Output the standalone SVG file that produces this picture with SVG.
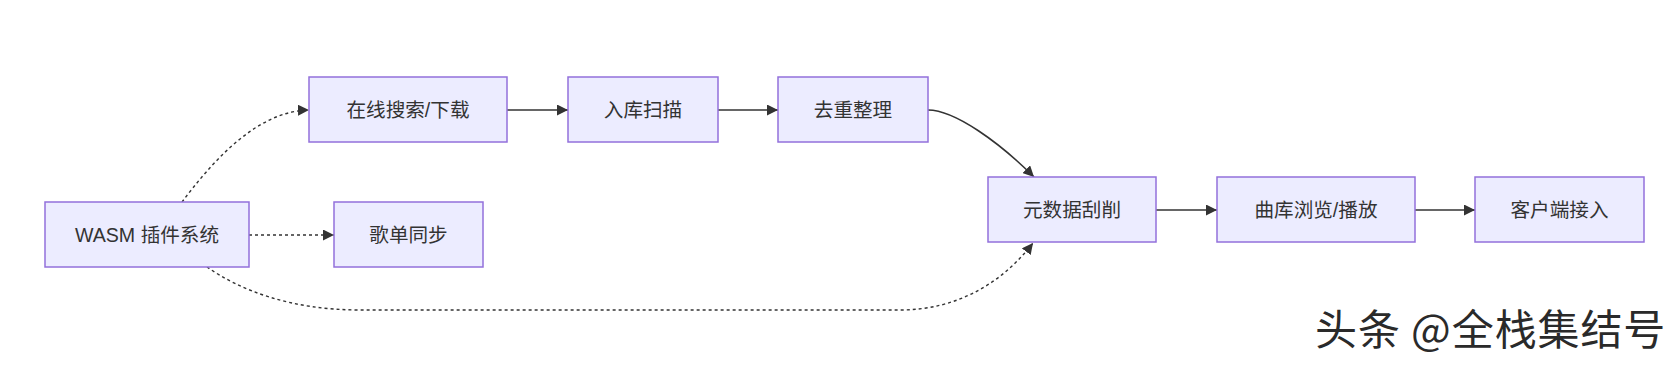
<svg xmlns="http://www.w3.org/2000/svg" width="1678" height="365" viewBox="0 0 1678 365">
<defs>
<style>
.node rect{fill:#ECECFF;stroke:#9370DB;stroke-width:1.5}
.node text{font-family:"Liberation Sans","Noto Sans CJK SC",sans-serif;font-size:19.6px;fill:#333;text-anchor:middle;dominant-baseline:central}
.edge{fill:none;stroke:#333;stroke-width:1.6}
.dotted{stroke-dasharray:3 3;stroke-width:1.4}
.wm{font-family:"Noto Sans CJK SC",sans-serif;font-size:42px;letter-spacing:0.9px;fill:#2a2a2a;stroke:#fff;stroke-width:0.6;paint-order:stroke}
</style>
<marker id="arrow" viewBox="0 0 10 10" refX="10" refY="5" markerWidth="11" markerHeight="11" markerUnits="userSpaceOnUse" orient="auto">
<path d="M0,0 L10,5 L0,10 z" fill="#333"/>
</marker>
</defs>
<rect width="1678" height="365" fill="#fff"/>
<g id="connectors">
<path class="edge dotted" d="M182,202 C210,165 255,111 309,110" marker-end="url(#arrow)"/>
<path class="edge" d="M507,110 L568,110" marker-end="url(#arrow)"/>
<path class="edge" d="M718,110 L778,110" marker-end="url(#arrow)"/>
<path class="edge" d="M928,110 C955,110 1000,143 1034,177" marker-end="url(#arrow)"/>
<path class="edge" d="M1156,210 L1217,210" marker-end="url(#arrow)"/>
<path class="edge" d="M1415,210 L1475,210" marker-end="url(#arrow)"/>
<path class="edge dotted" d="M249,235 L334,235" marker-end="url(#arrow)"/>
<path class="edge dotted" d="M207,267 C240,290 290,310 360,310 L900,310 C958,310 1003,282 1033,243" marker-end="url(#arrow)"/>
</g>
<g id="wasm" class="node"><rect x="45" y="202" width="204" height="65"/><text x="147" y="235">WASM 插件系统</text></g>
<g id="search" class="node"><rect x="309" y="77" width="198" height="65"/><text x="408" y="110">在线搜索/下载</text></g>
<g id="playlist" class="node"><rect x="334" y="202" width="149" height="65"/><text x="408.5" y="235">歌单同步</text></g>
<g id="scan" class="node"><rect x="568" y="77" width="150" height="65"/><text x="643" y="110">入库扫描</text></g>
<g id="dedup" class="node"><rect x="778" y="77" width="150" height="65"/><text x="853" y="110">去重整理</text></g>
<g id="meta" class="node"><rect x="988" y="177" width="168" height="65"/><text x="1072" y="210">元数据刮削</text></g>
<g id="browse" class="node"><rect x="1217" y="177" width="198" height="65"/><text x="1316" y="210">曲库浏览/播放</text></g>
<g id="client" class="node"><rect x="1475" y="177" width="169" height="65"/><text x="1559.5" y="210">客户端接入</text></g>
<text class="wm" x="1315" y="345">头条 @全栈集结号</text>
</svg>
